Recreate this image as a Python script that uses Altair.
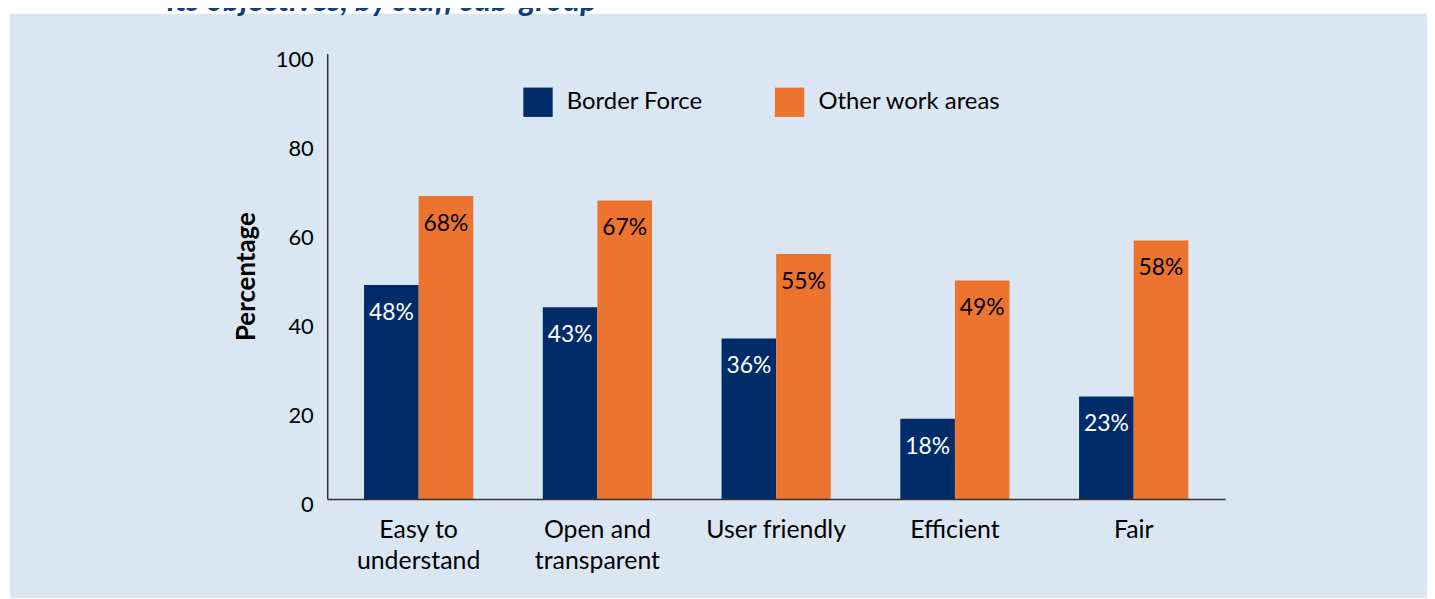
import altair as alt
import pandas as pd

categories = ["Easy to|understand", "Open and|transparent", "User friendly", "Efficient", "Fair"]
series_names = ["Border Force", "Other work areas"]
border_force = [48, 43, 36, 18, 23]
other_areas = [68, 67, 55, 49, 58]
y_ticks = [0, 20, 40, 60, 80, 100]
title_line = "its objectives, by staff sub-group"

rows = []
for c, b, o in zip(categories, border_force, other_areas):
    rows.append({"category": c, "series": series_names[0], "value": b, "label_color": "white"})
    rows.append({"category": c, "series": series_names[1], "value": o, "label_color": "black"})
df = pd.DataFrame(rows)

FONT = "Lato"
NAVY = "#002d69"
ORANGE = "#ec742e"
PANEL = "#dae6f2"

W, H = 903, 448
PL, PT = 321, 44

x_enc = alt.X(
    "category:N",
    sort=categories,
    scale=alt.Scale(paddingInner=0.389, paddingOuter=0.206),
    axis=alt.Axis(
        title=None,
        labelExpr="split(datum.label, '|')",
        labelFontSize=25,
        labelFont=FONT,
        labelColor="black",
        labelPadding=19,
        labelLineHeight=31,
        labelAngle=0,
        ticks=False,
        domainColor="#333333",
        domainWidth=1.5,
        zindex=2,
    ),
)
xoff = alt.XOffset("series:N", sort=series_names, scale=alt.Scale(paddingInner=0, paddingOuter=0))
y_enc = alt.Y(
    "value:Q",
    scale=alt.Scale(domain=[0, 100], nice=False),
    axis=alt.Axis(
        title="Percentage",
        titleFont=FONT,
        titleFontSize=26,
        titleFontWeight="bold",
        titleColor="black",
        titlePadding=16,
        values=y_ticks,
        labelFontSize=22,
        labelFont=FONT,
        labelColor="black",
        labelPadding=14,
        labelOffset=6,
        labelFlush=False,
        ticks=False,
        grid=False,
        domainColor="#333333",
        domainWidth=1.5,
        zindex=2,
    ),
)

panel_df = pd.DataFrame({"k": [0]})
panel = alt.Chart(panel_df).mark_rect(color=PANEL).encode(
    x=alt.value(10 - 8 - PL), x2=alt.value(1440 - 8 - PL), y=alt.value(12 - 8 - PT), y2=alt.value(600 - 8 - PT)
)
title_txt = alt.Chart(panel_df).mark_text(
    text=title_line, font=FONT, fontSize=32, fontStyle="italic", fontWeight="bold",
    color="#0b3f85", align="left", baseline="alphabetic"
).encode(x=alt.value(168 - 8 - PL), y=alt.value(9 - 8 - PT))

bars = alt.Chart(df).mark_bar().encode(
    x=x_enc,
    xOffset=xoff,
    y=y_enc,
    color=alt.Color(
        "series:N",
        sort=series_names,
        scale=alt.Scale(domain=series_names, range=[NAVY, ORANGE]),
        legend=alt.Legend(
            title=None,
            orient="none",
            legendX=197,
            legendY=34,
            direction="horizontal",
            symbolType="square",
            symbolSize=870,
            symbolStrokeWidth=0,
            symbolOpacity=1,
            labelFont=FONT,
            labelFontSize=24,
            labelColor="black",
            labelOffset=14,
            labelLimit=400,
            columnPadding=72,
            padding=0,
        ),
    ),
)

labels = alt.Chart(df).transform_calculate(
    label="datum.value + '%'"
).mark_text(font=FONT, fontSize=23, baseline="middle", dy=28).encode(
    x=alt.X("category:N", sort=categories),
    xOffset=alt.XOffset("series:N", sort=series_names),
    y=alt.Y("value:Q"),
    text="label:N",
    color=alt.Color("label_color:N", scale=None, legend=None),
)

chart = alt.layer(panel, title_txt, bars, labels).resolve_scale(color="independent").properties(
    width=W,
    height=H,
    autosize=alt.AutoSizeParams(type="none"),
    padding={"left": PL, "top": PT, "right": 1435 - 8 - PL - W, "bottom": 99},
    background="white",
).configure_view(stroke=None)

chart.save("out.html", embed_options={"renderer": "svg", "actions": False})
